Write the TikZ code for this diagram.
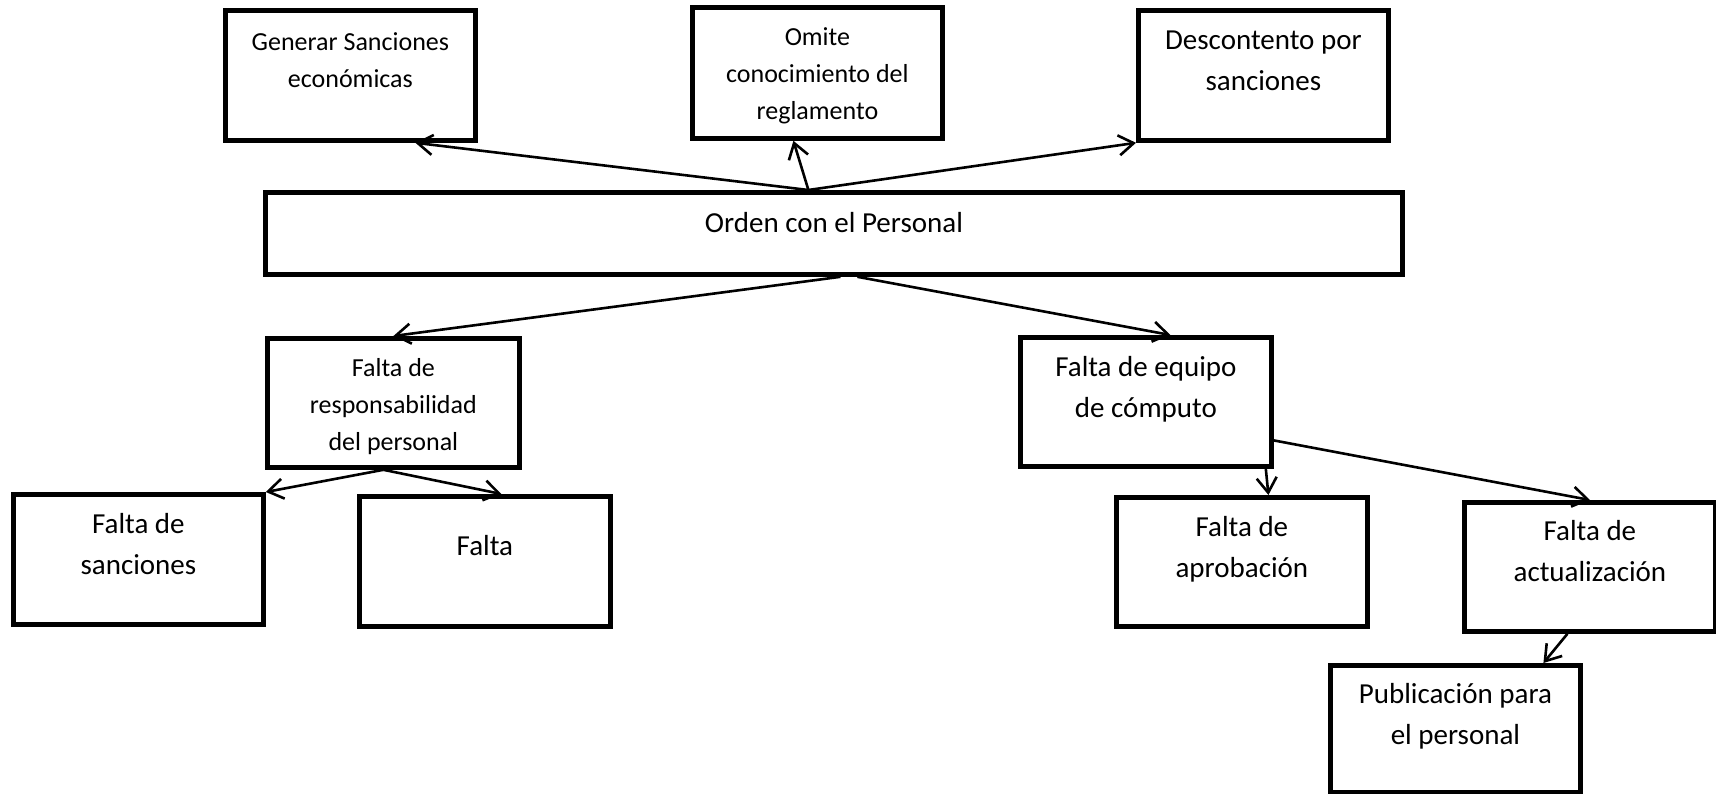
\documentclass[tikz,border=0pt]{standalone}
\usepackage{fontspec}
\setmainfont{Carlito}
\usetikzlibrary{arrows.meta}

\begin{document}
\begin{tikzpicture}[x=0.5pt, y=-0.5pt,
        caja/.style={draw, line width=2.4pt, inner sep=0pt, align=center, anchor=north west, minimum width=125pt},
        grande/.style={font=\fontsize{14.5}{20.5}\selectfont},
        chica/.style={font=\fontsize{13}{18.5}\selectfont},
        flecha/.style={-{Straight Barb[length=7.5pt,width=10pt]}, line width=1.3pt}]
        \useasboundingbox (0,0) rectangle (1716,793);

        % Cajas de arriba
        \node[caja, chica, text height=38.5pt, text depth=26.5pt] (gen) at (223,8) {Generar Sanciones\\económicas};
        \node[caja, chica, text height=56pt, text depth=9.5pt] (omite) at (690,5) {Omite\\conocimiento del\\reglamento};
        \node[caja, grande, text height=40pt, text depth=25pt] (desc) at (1136,8) {Descontento por\\sanciones};

        % Problema central
        \node[caja, grande, minimum width=568.5pt, text height=20pt, text depth=21pt] (orden) at (263,190) {Orden con el Personal};

        % Causas
        \node[caja, chica, minimum width=126pt, text height=56pt, text depth=8.5pt] (resp) at (265,336) {Falta de\\responsabilidad\\del personal};
        \node[caja, grande, minimum width=125.5pt, text height=40pt, text depth=24.5pt] (equipo) at (1018,335) {Falta de equipo\\de cómputo};

        \node[caja, grande, text height=40pt, text depth=25pt] (sanc) at (11,492) {Falta de\\sanciones};
        \node[caja, grande, minimum width=125.5pt, text height=29.5pt, text depth=35.5pt] (falta) at (357,494) {Falta};
        \node[caja, grande, minimum width=125.5pt, text height=40pt, text depth=24.5pt] (aprob) at (1114,495) {Falta de\\aprobación};
        \node[caja, grande, minimum width=125.5pt, text height=39.5pt, text depth=25pt] (actual) at (1462,500) {Falta de\\actualización};
        \node[caja, grande, text height=39.5pt, text depth=24pt] (public) at (1328,663) {Publicación para\\el personal};

        % Flechas hacia arriba
        \draw[flecha] ([xshift=-12.75pt]orden.north) -- ([xshift=32.5pt]gen.south);
        \draw[flecha] ([xshift=-12.75pt]orden.north) -- ([xshift=-12pt]omite.south);
        \draw[flecha] ([xshift=-12.75pt]orden.north) -- (desc.south west);

        % Flechas hacia abajo
        \draw[flecha] ([xshift=3.25pt]orden.south) -- (resp.north);
        \draw[flecha] ([xshift=11.75pt]orden.south) -- ([xshift=12.25pt]equipo.north);
        \draw[flecha] ([xshift=-5pt]resp.south) -- (sanc.north east);
        \draw[flecha] ([xshift=-5pt]resp.south) -- ([xshift=8.25pt]falta.north);
        \draw[flecha] ([xshift=-4pt]equipo.south east) -- ([xshift=13.25pt]aprob.north);
        \draw[flecha] ([yshift=-19.25pt]equipo.east) -- (actual.north);
        \draw[flecha] ([xshift=-11.25pt]actual.south) -- ([xshift=44pt]public.north);

    \end{tikzpicture}
\end{document}
